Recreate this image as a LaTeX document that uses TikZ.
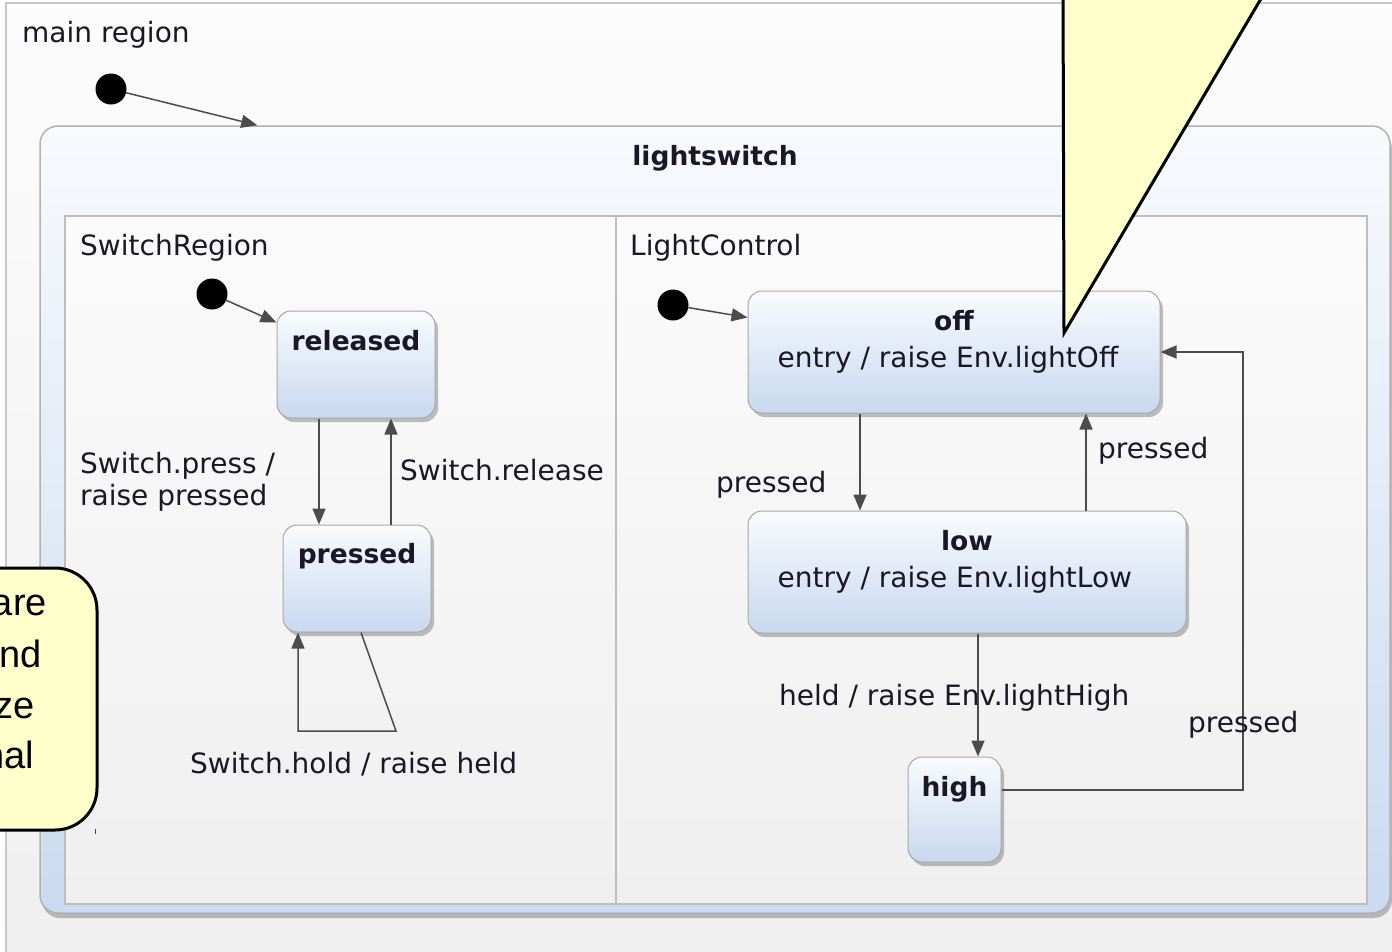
\documentclass[tikz,border=0pt]{standalone}
\usepackage{fontspec}
\setmainfont{DejaVu Sans}
\newfontfamily\calloutfont{Liberation Sans}
\usetikzlibrary{arrows.meta,shadows,fit,calc}

\definecolor{txt}{HTML}{1A1726}
\definecolor{edgec}{HTML}{4C4C4C}
\definecolor{stTop}{HTML}{F9FBFE}
\definecolor{stBot}{HTML}{C8D8EF}
\definecolor{stBorder}{HTML}{A8A8A8}
\definecolor{lsTop}{HTML}{F8FAFD}
\definecolor{lsBot}{HTML}{CADAF0}
\definecolor{lsBorder}{HTML}{B2B2B2}
\definecolor{regTop}{HTML}{FBFBFB}
\definecolor{regBot}{HTML}{EFEFEF}
\definecolor{regBorder}{HTML}{BDBDBD}
\definecolor{mainTop}{HTML}{FCFCFC}
\definecolor{mainBot}{HTML}{EFEFEF}
\definecolor{mainBorder}{HTML}{C8C8C8}
\definecolor{notefill}{HTML}{FFFFCC}

\begin{document}
\begin{tikzpicture}[x=1pt,y=-1pt,
  lbl/.style={font=\fontsize{28}{32}\selectfont, text=txt, inner sep=0pt},
  ttl/.style={font=\bfseries\fontsize{26.5}{32}\selectfont, text=txt, inner sep=0pt},
  notetext/.style={font=\calloutfont\fontsize{38}{50}\selectfont, text=black, inner sep=0pt},
  mainreg/.style={draw=mainBorder, line width=2pt, top color=mainTop, bottom color=mainBot, inner sep=0pt},
  compound/.style={draw=lsBorder, line width=1.5pt, rounded corners=18pt, top color=lsTop, bottom color=lsBot, inner sep=0pt,
    drop shadow={shadow xshift=2pt, shadow yshift=-5pt, opacity=0.35, fill=black!70}},
  regionbox/.style={draw=regBorder, line width=1.5pt, top color=regTop, bottom color=regBot, inner sep=0pt},
  regline/.style={draw=regBorder, line width=1.5pt},
  statebox/.style={draw=stBorder, line width=1pt, rounded corners=14pt, top color=stTop, bottom color=stBot, inner sep=0pt,
    drop shadow={shadow xshift=3pt, shadow yshift=-4pt, opacity=0.35, fill=black!70}},
  tr/.style={draw=edgec, line width=1.5pt, -{Triangle[length=16pt,width=13pt]}},
  initdot/.style={circle, fill=black, minimum size=31pt, inner sep=0pt},
  notebox/.style={draw=black, line width=3pt, fill=notefill, line join=round}
]
\useasboundingbox (0,0) rectangle (1392,951);
\clip (0,0) rectangle (1392,951);
\fill[white] (0,0) rectangle (1392,951);

% main region
\node[mainreg, fit={(6,3) (1404,964)}] (mainregion) {};
\node[lbl, anchor=base west] (mainlbl) at (22,42) {main region};
\node[initdot] (init0) at (111,89) {};

% composite state
\node[compound, fit={(40,126) (1390,913)}] (ls) {};
\node[ttl, anchor=base] (lstitle) at ([yshift=-40pt]ls.north) {lightswitch};
\draw[tr] (init0) -- ($(ls.north west)+(218,0)$);

% regions
\node[regionbox, fit={(65,216) (1367,904)}] (regs) {};
\coordinate (div) at (616,216);
\draw[regline] (div) -- (div |- regs.south);
\node[lbl, anchor=base west] (swlbl) at (80,255) {SwitchRegion};
\node[lbl, anchor=base west] (lclbl) at (630,255) {LightControl};

% SwitchRegion
\node[initdot] (init1) at (212,294) {};
\node[statebox, fit={(277,311) (435,418)}] (released) {};
\node[ttl, anchor=base] (releasedT) at ([yshift=-40pt]released.north) {released};
\node[statebox, fit={(283,525) (431,632)}] (pressed) {};
\node[ttl, anchor=base] (pressedT) at ([yshift=-39pt]pressed.north) {pressed};

\draw[tr] (init1) -- ([yshift=-12pt]released.north west);
\draw[tr] ([xshift=-37pt]released.south) -- ([xshift=-37pt]released.south |- pressed.north);
\draw[tr] ([xshift=35pt]released.south |- pressed.north) -- ([xshift=35pt]released.south);
\coordinate (loopA) at (396,731);
\coordinate (loopB) at (298,731);
\draw[tr] ([xshift=4pt]pressed.south) -- (loopA) -- (loopB) -- (loopB |- pressed.south);

\node[lbl, anchor=west, align=left] (lblpress) at (80,482) {Switch.press /\\raise pressed};
\node[lbl, anchor=base west] (lblrel) at (400,480) {Switch.release};
\node[lbl, anchor=base west] (lblhold) at (190,773) {Switch.hold / raise held};

% LightControl
\node[initdot] (init2) at (673,305) {};
\node[statebox, fit={(748,291) (1160,413)}] (off) {};
\node[ttl, anchor=base] (offT) at ([yshift=-40pt]off.north) {off};
\node[lbl, anchor=base west] (offE) at ([xshift=30pt,yshift=-77pt]off.north west) {entry / raise Env.lightOff};
\node[statebox, fit={(748,511) (1186,633)}] (low) {};
\node[ttl, anchor=base] (lowT) at ([yshift=-40pt]low.north) {low};
\node[lbl, anchor=base west] (lowE) at ([xshift=30pt,yshift=-77pt]low.north west) {entry / raise Env.lightLow};
\node[statebox, fit={(908,757) (1001,862)}] (high) {};
\node[ttl, anchor=base] (highT) at ([yshift=-40pt]high.north) {high};

\draw[tr] (init2) -- ([yshift=-27pt]off.north west);
\draw[tr] ([xshift=-94pt]off.south) -- ([xshift=-94pt]off.south |- low.north);
\draw[tr] ([xshift=119pt]low.north) -- ([xshift=119pt]low.north |- off.south);
\draw[tr] ([xshift=11pt]low.south) -- ([xshift=11pt]low.south |- high.north);
\coordinate (hc) at (1243,352);
\draw[tr] ([yshift=19.5pt]high.east) -| (hc) -- (off.east);

\node[lbl, anchor=base west] (lp1) at (716,492) {pressed};
\node[lbl, anchor=base west] (lp2) at (1098,458) {pressed};
\node[lbl, anchor=base west] (lheld) at (779,705) {held / raise Env.lightHigh};
\node[lbl, anchor=base west] (lp3) at (1188,732) {pressed};

% tiny mark
\draw[black!75, line width=1pt] (95,829) -- (95,834);

% callouts
\path[notebox, rounded corners=42pt] (-90,568) -- (97,568) -- (97,830) -- (-90,830) -- cycle;
\node[notetext, anchor=base east] (n1) at (47,615) {are};
\node[notetext, anchor=base east] (n2) at (42,667) {nd};
\node[notetext, anchor=base east] (n3) at (35,718) {ze};
\node[notetext, anchor=base east] (n4) at (34,768) {nal};

\path[notebox, line join=miter] (1063,-20) -- (1064,333) -- (1272,-20) -- cycle;
\end{tikzpicture}
\end{document}
